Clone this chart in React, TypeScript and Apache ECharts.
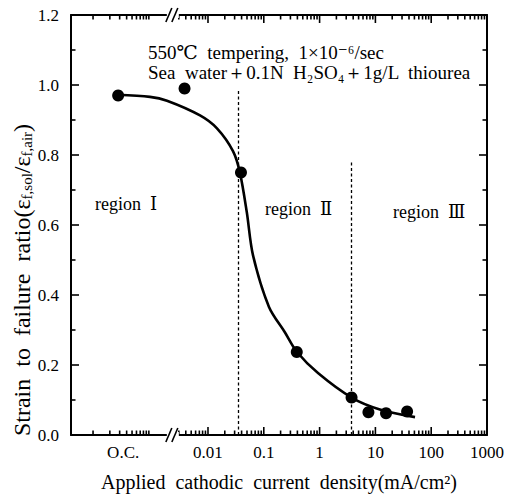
import React, { useEffect, useRef } from 'react';
import * as echarts from 'echarts';

const FONT = '"Liberation Serif", "DejaVu Serif", serif';

// The x axis runs in log10 of the current density (mA/cm2); O.C. sits at a fixed place left of the break.
const X_MIN = -4.455;
const X_MAX = 3;
const Y_MIN = 0;
const Y_MAX = 1.2;
const Y_INTERVAL = 0.2;
const OC_LABEL_POS = -3.52;
const OC_POINT_POS = -3.61;
const BREAK_POS = -2.63;

const tickLabelValues = [OC_LABEL_POS, -2, -1, 0, 1, 2, 3];
const tickLabels = ['O.C.', '0.01', '0.1', '1', '10', '100', '1000'];

const decadeStarts = [-3, -2, -1, 0, 1, 2];
const majorTickValues = [-2, -1, 0, 1, 2];
const leftDecadeStart = -4.06;
const yMajorTicks = [0.2, 0.4, 0.6, 0.8, 1.0];
const yMinorTicks = [0.1, 0.3, 0.5, 0.7, 0.9, 1.1];

// measured points: current density (null = open circuit) and strain-to-failure ratio
const pointCurrent = [null, 0.0038, 0.039, 0.39, 3.74, 7.5, 15.5, 37];
const pointRatio = [0.97, 0.99, 0.75, 0.237, 0.107, 0.065, 0.062, 0.067];

// fitted curve: log10 current density, ratio
const curveLogX = [-3.63, -3.04, -2.735, -2.143, -1.839, -1.552, -1.427, -1.305, -1.194, -0.907, -0.62, -0.405, -0.029, 0.573, 1.08, 1.71];
const curveRatio = [0.972, 0.966, 0.955, 0.913, 0.876, 0.811, 0.749, 0.637, 0.514, 0.366, 0.293, 0.237, 0.177, 0.107, 0.073, 0.051];

// region boundaries (current density) and the top of each dashed line
const boundaryCurrent = [0.0347, 3.74];
const boundaryTop = [0.983, 0.786];

const TICK_W = 1.6;

// ticks drawn as thin rect symbols of a scatter series, placed through the axes' scales
function tickSeries(data: number[][], size: number[], offset: number[]) {
  return {
    type: 'scatter',
    data,
    symbol: 'rect',
    symbolSize: size,
    symbolOffset: offset,
    clip: false,
    silent: true,
    itemStyle: { color: '#000', opacity: 1 },
    z: 5,
  };
}

export default function App() {
  const ref = useRef<HTMLDivElement>(null);
  useEffect(() => {
    if (!ref.current) return;
    const chart = echarts.init(ref.current, null, { renderer: 'svg' });

    const minorTicks: number[] = [];
    for (let k = 1; k <= 10; k++) minorTicks.push(leftDecadeStart + Math.log10(k));
    decadeStarts.forEach((d) => {
      for (let k = 2; k <= 9; k++) {
        const v = d + Math.log10(k);
        if (v > BREAK_POS + 0.08) minorTicks.push(v);
      }
    });

    const points = pointCurrent.map((c, i) => [c === null ? OC_POINT_POS : Math.log10(c), pointRatio[i]]);
    const curve = curveLogX.map((x, i) => [x, curveRatio[i]]);

    const baseX = {
      type: 'value' as const,
      min: X_MIN,
      max: X_MAX,
      splitLine: { show: false },
      axisTick: { show: false },
    };
    const baseY = {
      type: 'value' as const,
      min: Y_MIN,
      max: Y_MAX,
      interval: Y_INTERVAL,
      splitLine: { show: false },
      axisTick: { show: false },
    };
    const lineStyle = { color: '#000', width: 2 };
    const MAJ = 8;
    const MIN = 4.5;

    const option: any = {
      animation: false,
      backgroundColor: '#fff',
      textStyle: { fontFamily: FONT, color: '#000' },
      grid: { left: 71, right: 29, top: 15, bottom: 56 },
      xAxis: [
        {
          ...baseX,
          position: 'bottom',
          axisLine: { show: true, onZero: false, lineStyle },
          axisLabel: {
            show: true,
            customValues: tickLabelValues,
            showMaxLabel: true,
            showMinLabel: true,
            fontFamily: FONT,
            fontSize: 17,
            color: '#000',
            margin: 9,
            formatter: (v: number) => {
              const i = tickLabelValues.findIndex((t) => Math.abs(t - v) < 1e-6);
              return i >= 0 ? tickLabels[i] : '';
            },
          },
          name: 'Applied  cathodic  current  density(mA/cm²)',
          nameLocation: 'middle',
          nameGap: 37,
          nameTextStyle: { fontFamily: FONT, fontSize: 20, color: '#000' },
        },
        {
          ...baseX,
          position: 'top',
          axisLine: { show: true, onZero: false, lineStyle },
          axisLabel: { show: false },
        },
      ],
      yAxis: [
        {
          ...baseY,
          position: 'left',
          axisLine: { show: true, onZero: false, lineStyle },
          axisLabel: {
            fontFamily: FONT,
            fontSize: 17,
            color: '#000',
            margin: 12,
            formatter: (v: number) => v.toFixed(1),
          },
        },
        {
          ...baseY,
          position: 'right',
          axisLine: { show: true, onZero: false, lineStyle },
          axisLabel: { show: false },
        },
      ],
      series: [
        {
          type: 'line',
          data: curve,
          smooth: 0.3,
          showSymbol: false,
          symbol: 'none',
          lineStyle: { color: '#000', width: 2.6 },
          z: 3,
        },
        {
          type: 'scatter',
          data: points,
          symbol: 'circle',
          symbolSize: 12,
          itemStyle: { color: '#000', opacity: 1 },
          z: 4,
          markLine: {
            silent: true,
            symbol: 'none',
            label: { show: false },
            lineStyle: { color: '#000', type: [3, 2.5], width: 1.3, opacity: 1 },
            data: boundaryCurrent.map((c, i) => [
              { coord: [Math.log10(c), 0] },
              { coord: [Math.log10(c), boundaryTop[i]] },
            ]),
          },
        },
        tickSeries(majorTickValues.map((v) => [v, Y_MIN]), [TICK_W, MAJ], [0, -MAJ / 2]),
        tickSeries(majorTickValues.map((v) => [v, Y_MAX]), [TICK_W, MAJ], [0, MAJ / 2]),
        tickSeries(minorTicks.map((v) => [v, Y_MIN]), [TICK_W, MIN], [0, -MIN / 2]),
        tickSeries(minorTicks.map((v) => [v, Y_MAX]), [TICK_W, MIN], [0, MIN / 2]),
        tickSeries(yMajorTicks.map((v) => [X_MIN, v]), [MAJ, TICK_W], [MAJ / 2, 0]),
        tickSeries(yMajorTicks.map((v) => [X_MAX, v]), [MAJ, TICK_W], [-MAJ / 2, 0]),
        tickSeries(yMinorTicks.map((v) => [X_MIN, v]), [MIN, TICK_W], [MIN / 2, 0]),
        tickSeries(yMinorTicks.map((v) => [X_MAX, v]), [MIN, TICK_W], [-MIN / 2, 0]),
        {
          type: 'custom',
          data: [[BREAK_POS, Y_MIN], [BREAK_POS, Y_MAX]],
          clip: false,
          silent: true,
          z: 10,
          renderItem: (params: any, api: any) => {
            const p = api.coord([api.value(0), api.value(1)]);
            const cx = p[0];
            const cy = p[1];
            return {
              type: 'group',
              children: [
                { type: 'rect', shape: { x: cx - 6, y: cy - 3, width: 12, height: 6 }, style: { fill: '#fff' } },
                { type: 'line', shape: { x1: cx - 7, y1: cy + 7, x2: cx - 1, y2: cy - 7 }, style: { stroke: '#000', lineWidth: 1.6 } },
                { type: 'line', shape: { x1: cx - 1, y1: cy + 7, x2: cx + 5, y2: cy - 7 }, style: { stroke: '#000', lineWidth: 1.6 } },
              ],
            };
          },
        },
      ],
      graphic: [
        {
          type: 'text',
          left: 148,
          top: 43,
          style: { text: '550℃  tempering,  1×10⁻⁶/sec', fontFamily: FONT, fontSize: 19, fill: '#000' },
        },
        {
          type: 'text',
          left: 148,
          top: 63,
          style: { text: 'Sea  water＋0.1N  H₂SO₄＋1g/L  thiourea', fontFamily: FONT, fontSize: 19, fill: '#000' },
        },
        { type: 'text', left: 95, top: 195, style: { text: 'region  Ⅰ', fontFamily: FONT, fontSize: 18, fill: '#000' } },
        { type: 'text', left: 265, top: 200, style: { text: 'region  Ⅱ', fontFamily: FONT, fontSize: 18, fill: '#000' } },
        { type: 'text', left: 393, top: 203, style: { text: 'region  Ⅲ', fontFamily: FONT, fontSize: 18, fill: '#000' } },
        {
          type: 'text',
          x: 22,
          y: 280,
          rotation: Math.PI / 2,
          style: {
            text: 'Strain  to  failure  ratio(ε{sub|f,sol}/ε{sub|f,air})',
            fontFamily: FONT,
            fontSize: 24,
            fill: '#000',
            align: 'center',
            verticalAlign: 'middle',
            rich: { sub: { fontFamily: FONT, fontSize: 15, verticalAlign: 'bottom', fill: '#000' } },
          },
        },
      ],
    };

    chart.setOption(option);
    return () => chart.dispose();
  }, []);

  return <div ref={ref} style={{ position: 'absolute', left: 0, top: 0, width: 516, height: 497 }} />;
}
